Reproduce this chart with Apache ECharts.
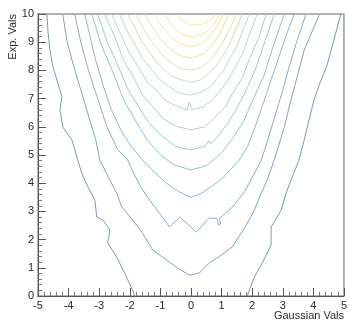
<!DOCTYPE html>
<html>
<head>
<meta charset="utf-8">
<script src="https://cdn.jsdelivr.net/npm/echarts@6/dist/echarts.min.js"></script>
<style>
  html, body { margin: 0; padding: 0; background: #fff; }
  #chart { width: 350px; height: 322px; }
</style>
</head>
<body>
<div id="chart"></div>
<script>
// Contour levels of the 2D histogram, lowest (outermost) to highest (innermost).
// Each contour is a polyline of [Gaussian value, Exp. value] points.
const contour1 = [[-4.71,10],[-4.67,9.33],[-4.61,8.72],[-4.51,8.12],[-4.35,7.55],[-4.22,7.06],[-4.28,6.6],[-4.19,5.99],[-3.89,5.53],[-3.73,4.93],[-3.57,4.36],[-3.37,3.87],[-3.14,3.4],[-3.08,2.8],[-2.88,2.7],[-2.65,2.34],[-2.72,1.88],[-2.43,1.38],[-2.17,0.82],[-1.91,0.21],[-1.84,0]];
const contour1b = [[1.84,0],[1.91,0.21],[2.07,0.67],[2.33,1.17],[2.62,1.81],[2.62,2.45],[2.95,3.05],[3.11,3.65],[3.27,4.11],[3.53,4.82],[3.7,5.53],[3.86,6.24],[4.02,6.95],[4.19,7.48],[4.45,8.19],[4.67,9.08],[4.9,10]];
const contour2 = [[-4.19,10],[-4.06,9.08],[-3.89,8.37],[-3.7,7.66],[-3.5,6.95],[-3.31,6.24],[-3.11,5.53],[-2.98,4.82],[-2.65,4.11],[-2.43,3.65],[-2.26,3.16],[-1.91,2.7],[-1.58,2.23],[-1.25,1.63],[-0.8,1.28],[-0.44,0.99],[-0.05,0.74],[0.28,0.82],[0.6,1.17],[0.99,1.45],[1.35,1.74],[1.81,2.52],[2.07,3.05],[2.3,3.65],[2.49,4.11],[2.72,4.82],[3.05,5.99],[3.27,6.95],[3.47,7.77],[3.7,8.72],[3.98,9.43],[4.2,10]];
const contour3 = [[-3.8,10],[-3.6,9.0],[-3.35,8.0],[-3.05,7.0],[-2.75,6.0],[-2.4,5.2],[-2.07,4.82],[-1.85,4.3],[-1.6,3.8],[-1.35,3.4],[-1.0,2.9],[-0.7,2.45],[-0.37,2.8],[0.18,2.27],[0.6,2.77],[0.85,2.75],[0.9,2.5],[0.97,2.55],[0.93,2.75],[1.35,3.15],[1.75,3.7],[2.05,4.3],[2.3,4.82],[2.5,5.5],[2.75,6.4],[3.0,7.3],[3.2,8.1],[3.45,9.0],[3.76,10]];
const contour4 = [[-3.47,10],[-3.3,9.2],[-3.1,8.3],[-2.85,7.4],[-2.6,6.6],[-2.3,5.9],[-1.95,5.3],[-1.58,4.82],[-1.2,4.4],[-0.8,4.0],[-0.4,3.7],[0,3.5],[0.35,3.65],[0.7,3.9],[1.05,4.2],[1.3,4.5],[1.58,4.82],[1.85,5.3],[2.1,6.0],[2.35,6.8],[2.6,7.6],[2.85,8.4],[3.1,9.2],[3.37,10]];
const contour5 = [[-3.24,10],[-2.93,8.9],[-2.5,7.8],[-2.2,6.95],[-1.75,6.1],[-1.47,5.6],[-1.0,5.0],[-0.55,4.65],[0,4.47],[0.5,4.62],[0.98,5.05],[1.33,5.55],[1.7,6.15],[2.02,6.95],[2.38,7.8],[2.7,8.9],[3.05,10]];
const contour6 = [[-3.05,10],[-2.75,9.05],[-2.34,8.05],[-2.07,7.35],[-1.65,6.6],[-1.38,6.15],[-0.95,5.68],[-0.5,5.3],[0,5.18],[0.45,5.3],[0.58,5.5],[0.64,5.38],[0.88,5.66],[1.2,6.12],[1.5,6.65],[1.82,7.33],[2.12,8.08],[2.42,9.03],[2.72,10]];
const contour7 = [[-2.82,10],[-2.5,9.2],[-2.2,8.35],[-1.87,7.75],[-1.57,7.1],[-1.25,6.72],[-0.9,6.28],[-0.47,6.02],[0,5.89],[0.45,6.0],[0.76,6.32],[1.12,6.7],[1.33,7.13],[1.67,7.73],[1.9,8.37],[2.22,9.17],[2.46,10]];
const contour8 = [[-2.59,10],[-2.3,9.3],[-2.03,8.65],[-1.72,8.12],[-1.44,7.6],[-1.14,7.3],[-0.83,6.93],[-0.45,6.72],[-0.12,6.6],[-0.06,6.88],[0.03,6.6],[0.38,6.7],[0.7,6.95],[0.95,7.27],[1.2,7.63],[1.45,8.12],[1.7,8.63],[1.93,9.33],[2.17,10]];
const contour9 = [[-2.33,10],[-2.1,9.42],[-1.8,8.86],[-1.57,8.4],[-1.26,8.0],[-1.05,7.7],[-0.72,7.43],[-0.4,7.2],[0,7.13],[0.33,7.22],[0.62,7.4],[0.84,7.71],[1.06,7.98],[1.27,8.43],[1.5,8.84],[1.7,9.44],[1.91,10]];
const contour10 = [[-2.07,10],[-1.84,9.53],[-1.62,9.03],[-1.37,8.68],[-1.14,8.3],[-0.92,8.08],[-0.66,7.82],[-0.35,7.67],[0,7.59],[0.3,7.65],[0.52,7.84],[0.76,8.06],[0.93,8.32],[1.12,8.66],[1.31,9.05],[1.49,9.51],[1.68,10]];
const contour11 = [[-1.81,10],[-1.6,9.6],[-1.41,9.2],[-1.2,8.9],[-1.0,8.62],[-0.8,8.4],[-0.57,8.22],[-0.3,8.06],[0,8.01],[0.27,8.07],[0.46,8.2],[0.67,8.42],[0.8,8.6],[1.0,8.92],[1.14,9.2],[1.33,9.6],[1.48,10]];
const contour12 = [[-1.51,10],[-1.35,9.7],[-1.16,9.38],[-1.02,9.14],[-0.82,8.9],[-0.68,8.76],[-0.47,8.6],[-0.25,8.49],[0,8.44],[0.22,8.5],[0.4,8.6],[0.57,8.75],[0.69,8.92],[0.84,9.13],[0.98,9.38],[1.11,9.69],[1.25,10]];
const contour13 = [[-1.19,10],[-1.07,9.77],[-0.92,9.53],[-0.65,9.18],[-0.38,8.95],[0,8.83],[0.34,8.94],[0.58,9.18],[0.82,9.52],[0.95,9.76],[1.06,10]];
const contour14 = [[-0.86,10],[-0.67,9.67],[-0.47,9.43],[-0.27,9.26],[0.05,9.18],[0.35,9.26],[0.57,9.43],[0.77,9.67],[0.95,10]];
const contour15 = [[-0.47,10],[-0.33,9.8],[-0.12,9.66],[0.15,9.61],[0.45,9.66],[0.65,9.8],[0.8,10]];

const contours = [contour1, contour1b, contour2, contour3, contour4, contour5, contour6, contour7,
                  contour8, contour9, contour10, contour11, contour12, contour13, contour14, contour15];
// Line colour for each contour (the split outermost level shares one colour).
const levelColors = ['#7b97bd', '#7b97bd', '#7ea2c8', '#82adcf', '#88b8d4', '#90c2d7', '#9bcad7',
                     '#a6d0d4', '#b1d5ce', '#bdd9c6', '#cadcbd', '#d6dfb4', '#e1e2ab', '#eae4a4', '#f1e69e', '#f4e89a'];

const xTicks = [-5, -4, -3, -2, -1, 0, 1, 2, 3, 4, 5];
const yTicks = [0, 1, 2, 3, 4, 5, 6, 7, 8, 9, 10];

const chart = echarts.init(document.getElementById('chart'), null, { renderer: 'canvas' });

const labelFont = { fontFamily: 'Liberation Sans, Arial, sans-serif', fontSize: 11, color: '#2a2a2a' };

chart.setOption({
  animation: false,
  backgroundColor: '#ffffff',
  grid: { left: 38, right: 5, top: 14, bottom: 26, show: true, borderColor: '#9a9a9a', borderWidth: 1.5, backgroundColor: 'transparent' },
  xAxis: {
    type: 'value', min: xTicks[0], max: xTicks[xTicks.length - 1], interval: 1,
    axisLine: { show: true, onZero: false, lineStyle: { color: '#555', width: 1 } },
    axisTick: { show: true, inside: true, length: 8, lineStyle: { color: '#555' } },
    minorTick: { show: true, splitNumber: 5, length: 4, lineStyle: { color: '#777' } },
    splitLine: { show: false },
    axisLabel: Object.assign({ margin: 4 }, labelFont)
  },
  yAxis: {
    type: 'value', min: yTicks[0], max: yTicks[yTicks.length - 1], interval: 1,
    axisLine: { show: true, onZero: false, lineStyle: { color: '#555', width: 1 } },
    axisTick: { show: true, inside: true, length: 8, lineStyle: { color: '#555' } },
    minorTick: { show: true, splitNumber: 5, length: 4, lineStyle: { color: '#777' } },
    splitLine: { show: false },
    axisLabel: Object.assign({ margin: 4 }, labelFont)
  },
  graphic: [
    { type: 'text', right: 6, bottom: 1, style: { text: 'Gaussian Vals', font: '11px Liberation Sans, Arial, sans-serif', fill: '#2a2a2a' } },
    { type: 'text', left: 7, top: 14, rotation: Math.PI / 2, style: { text: 'Exp. Vals', font: '11px Liberation Sans, Arial, sans-serif', fill: '#2a2a2a' } }
  ],
  series: contours.map((pts, i) => ({
    type: 'line',
    data: pts,
    showSymbol: false,
    symbol: 'none',
    smooth: false,
    clip: true,
    lineStyle: { width: 1, color: levelColors[i] },
    silent: true
  }))
});
</script>
</body>
</html>
